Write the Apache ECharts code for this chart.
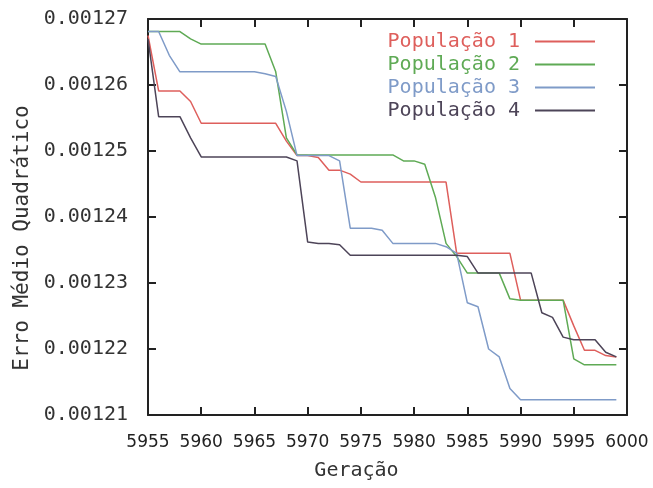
<!DOCTYPE html>
<html>
<head>
<meta charset="utf-8">
<script src="https://cdn.jsdelivr.net/npm/echarts@6/dist/echarts.min.js"></script>
<style>
html,body{margin:0;padding:0;background:#fff;}
#chart{width:653px;height:488px;}
</style>
</head>
<body>
<div id="chart"></div>
<script>
// Generations (x axis)
const generations = [5955,5956,5957,5958,5959,5960,5961,5962,5963,5964,5965,5966,5967,5968,5969,5970,5971,5972,5973,5974,5975,5976,5977,5978,5979,5980,5981,5982,5983,5984,5985,5986,5987,5988,5989,5990,5991,5992,5993,5994,5995,5996,5997,5998,5999];

const seriesNames = ['População 1','População 2','População 3','População 4'];

const pop1 = [0.0012675,0.0012591,0.0012591,0.0012591,0.0012575,0.0012542,0.0012542,0.0012542,0.0012542,0.0012542,0.0012542,0.0012542,0.0012542,0.0012515,0.0012493,0.0012493,0.0012490,0.0012471,0.0012471,0.0012465,0.0012453,0.0012453,0.0012453,0.0012453,0.0012453,0.0012453,0.0012453,0.0012453,0.0012453,0.0012345,0.0012345,0.0012345,0.0012345,0.0012345,0.0012345,0.0012274,0.0012274,0.0012274,0.0012274,0.0012274,0.0012235,0.0012198,0.0012198,0.0012190,0.0012188];

const pop2 = [0.0012681,0.0012681,0.0012681,0.0012681,0.0012670,0.0012662,0.0012662,0.0012662,0.0012662,0.0012662,0.0012662,0.0012662,0.0012620,0.0012520,0.0012494,0.0012494,0.0012494,0.0012494,0.0012494,0.0012494,0.0012494,0.0012494,0.0012494,0.0012494,0.0012485,0.0012485,0.0012480,0.0012430,0.0012360,0.0012340,0.0012315,0.0012315,0.0012315,0.0012315,0.0012276,0.0012274,0.0012274,0.0012274,0.0012274,0.0012274,0.0012185,0.0012176,0.0012176,0.0012176,0.0012176];

const pop3 = [0.0012681,0.0012681,0.0012645,0.0012620,0.0012620,0.0012620,0.0012620,0.0012620,0.0012620,0.0012620,0.0012620,0.0012617,0.0012613,0.0012560,0.0012493,0.0012493,0.0012493,0.0012493,0.0012485,0.0012383,0.0012383,0.0012383,0.0012380,0.0012360,0.0012360,0.0012360,0.0012360,0.0012360,0.0012355,0.0012345,0.0012270,0.0012264,0.0012200,0.0012188,0.0012140,0.0012123,0.0012123,0.0012123,0.0012123,0.0012123,0.0012123,0.0012123,0.0012123,0.0012123,0.0012123];

const pop4 = [0.0012670,0.0012552,0.0012552,0.0012552,0.0012520,0.0012491,0.0012491,0.0012491,0.0012491,0.0012491,0.0012491,0.0012491,0.0012491,0.0012491,0.0012485,0.0012362,0.0012360,0.0012360,0.0012358,0.0012342,0.0012342,0.0012342,0.0012342,0.0012342,0.0012342,0.0012342,0.0012342,0.0012342,0.0012342,0.0012342,0.0012340,0.0012315,0.0012315,0.0012315,0.0012315,0.0012315,0.0012315,0.0012255,0.0012248,0.0012218,0.0012214,0.0012214,0.0012214,0.0012195,0.0012188];

const xTicks = {min: 5955, max: 6000, interval: 5};
const yTicks = {min: 0.00121, max: 0.00127, interval: 0.00001};

const colors = ['#de5f5c','#5faa55','#7f9bc8','#4d4458'];
const allData = [pop1, pop2, pop3, pop4];

const chart = echarts.init(document.getElementById('chart'), null, {renderer:'canvas'});
const axisColor = '#222';
const mono = 'DejaVu Sans Mono';

chart.setOption({
  animation: false,
  backgroundColor: '#fff',
  grid: {left: 148, right: 26, top: 19, bottom: 73, containLabel: false, outerBoundsMode: 'none'},
  legend: {
    orient: 'vertical', right: 53, top: 26, align: 'right',
    icon: 'rect', itemWidth: 60, itemHeight: 2, itemGap: 2,
    textStyle: {fontFamily: mono, fontSize: 20, lineHeight: 21, padding: [0, 10, 0, 0]},
    data: seriesNames.map((n, i) => ({name: n, textStyle: {color: colors[i]}}))
  },
  xAxis: [{
    type: 'value', position: 'bottom', min: xTicks.min, max: xTicks.max, interval: xTicks.interval,
    axisLine: {show: true, onZero: false, lineStyle: {color: axisColor, width: 2}},
    axisTick: {show: true, inside: true, length: 8, lineStyle: {color: axisColor, width: 2}},
    axisLabel: {fontFamily: 'DejaVu Sans', fontSize: 17, color: '#222', margin: 19, formatter: v => String(v)},
    splitLine: {show: false},
    name: 'Geração', nameLocation: 'middle', nameGap: 46,
    nameTextStyle: {fontFamily: mono, fontSize: 20, color: '#333', padding: [0, 62, 0, 0]}
  }, {
    type: 'value', position: 'top', min: xTicks.min, max: xTicks.max, interval: xTicks.interval,
    axisLine: {show: true, onZero: false, lineStyle: {color: axisColor, width: 2}},
    axisTick: {show: true, inside: true, length: 8, lineStyle: {color: axisColor, width: 2}},
    axisLabel: {show: false}, splitLine: {show: false}
  }],
  yAxis: [{
    type: 'value', position: 'left', min: yTicks.min, max: yTicks.max, interval: yTicks.interval,
    axisLine: {show: true, onZero: false, lineStyle: {color: axisColor, width: 2}},
    axisTick: {show: true, inside: true, length: 8, lineStyle: {color: axisColor, width: 2}},
    axisLabel: {fontFamily: mono, fontSize: 20, color: '#333', margin: 20, formatter: v => v.toFixed(5)},
    splitLine: {show: false},
    name: 'Erro Médio Quadrático', nameLocation: 'middle', nameGap: 115,
    nameTextStyle: {fontFamily: mono, fontSize: 21, color: '#333', padding: [0, 42, 0, 0]}
  }, {
    type: 'value', position: 'right', min: yTicks.min, max: yTicks.max, interval: yTicks.interval,
    axisLine: {show: true, onZero: false, lineStyle: {color: axisColor, width: 2}},
    axisTick: {show: true, inside: true, length: 8, lineStyle: {color: axisColor, width: 2}},
    axisLabel: {show: false}, splitLine: {show: false}
  }],
  series: allData.map((vals, i) => ({
    name: seriesNames[i], type: 'line', xAxisIndex: 0, yAxisIndex: 0,
    showSymbol: false, symbol: 'none',
    lineStyle: {color: colors[i], width: 1.5},
    itemStyle: {color: colors[i]},
    data: generations.map((g, j) => [g, vals[j]])
  }))
});
</script>
</body>
</html>
